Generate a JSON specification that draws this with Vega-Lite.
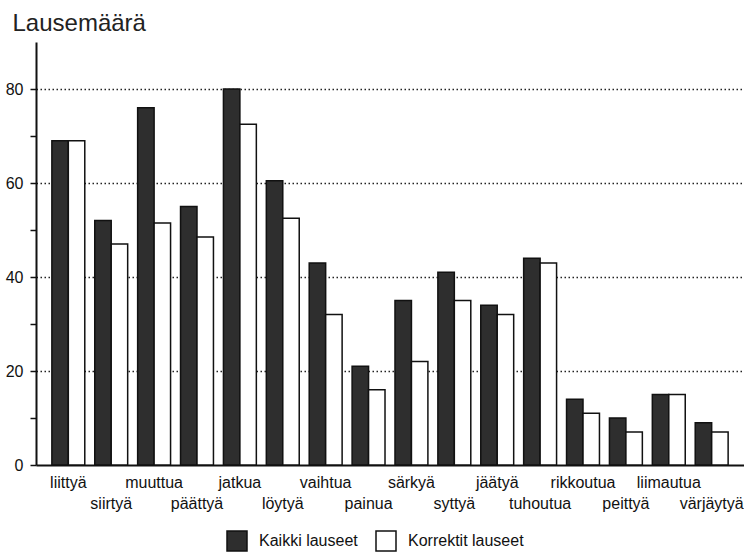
{
  "$schema": "https://vega.github.io/schema/vega-lite/v6.json",
  "width": 708,
  "height": 423,
  "autosize": {"type": "none"},
  "padding": {"left": 36, "top": 42, "right": 0, "bottom": 87},
  "background": "white",
  "config": {
    "view": {"stroke": null},
    "font": "Liberation Sans",
    "text": {"font": "Liberation Sans"}
  },
  "data": {
    "values": [
      {"verbi": "liittyä", "sarja": "Kaikki lauseet", "arvo": 69},
      {"verbi": "liittyä", "sarja": "Korrektit lauseet", "arvo": 69},
      {"verbi": "siirtyä", "sarja": "Kaikki lauseet", "arvo": 52},
      {"verbi": "siirtyä", "sarja": "Korrektit lauseet", "arvo": 47},
      {"verbi": "muuttua", "sarja": "Kaikki lauseet", "arvo": 76},
      {"verbi": "muuttua", "sarja": "Korrektit lauseet", "arvo": 51.5},
      {"verbi": "päättyä", "sarja": "Kaikki lauseet", "arvo": 55},
      {"verbi": "päättyä", "sarja": "Korrektit lauseet", "arvo": 48.5},
      {"verbi": "jatkua", "sarja": "Kaikki lauseet", "arvo": 80},
      {"verbi": "jatkua", "sarja": "Korrektit lauseet", "arvo": 72.5},
      {"verbi": "löytyä", "sarja": "Kaikki lauseet", "arvo": 60.5},
      {"verbi": "löytyä", "sarja": "Korrektit lauseet", "arvo": 52.5},
      {"verbi": "vaihtua", "sarja": "Kaikki lauseet", "arvo": 43},
      {"verbi": "vaihtua", "sarja": "Korrektit lauseet", "arvo": 32},
      {"verbi": "painua", "sarja": "Kaikki lauseet", "arvo": 21},
      {"verbi": "painua", "sarja": "Korrektit lauseet", "arvo": 16},
      {"verbi": "särkyä", "sarja": "Kaikki lauseet", "arvo": 35},
      {"verbi": "särkyä", "sarja": "Korrektit lauseet", "arvo": 22},
      {"verbi": "syttyä", "sarja": "Kaikki lauseet", "arvo": 41},
      {"verbi": "syttyä", "sarja": "Korrektit lauseet", "arvo": 35},
      {"verbi": "jäätyä", "sarja": "Kaikki lauseet", "arvo": 34},
      {"verbi": "jäätyä", "sarja": "Korrektit lauseet", "arvo": 32},
      {"verbi": "tuhoutua", "sarja": "Kaikki lauseet", "arvo": 44},
      {"verbi": "tuhoutua", "sarja": "Korrektit lauseet", "arvo": 43},
      {"verbi": "rikkoutua", "sarja": "Kaikki lauseet", "arvo": 14},
      {"verbi": "rikkoutua", "sarja": "Korrektit lauseet", "arvo": 11},
      {"verbi": "peittyä", "sarja": "Kaikki lauseet", "arvo": 10},
      {"verbi": "peittyä", "sarja": "Korrektit lauseet", "arvo": 7},
      {"verbi": "liimautua", "sarja": "Kaikki lauseet", "arvo": 15},
      {"verbi": "liimautua", "sarja": "Korrektit lauseet", "arvo": 15},
      {"verbi": "värjäytyä", "sarja": "Kaikki lauseet", "arvo": 9},
      {"verbi": "värjäytyä", "sarja": "Korrektit lauseet", "arvo": 7}
    ]
  },
  "mark": {"type": "bar", "stroke": "#111111", "strokeWidth": 1.5},
  "encoding": {
    "x": {
      "field": "verbi",
      "type": "nominal",
      "sort": null,
      "scale": {"paddingInner": 0.2326, "paddingOuter": 0.37},
      "axis": {
        "title": null,
        "ticks": false,
        "tickSize": 0,
        "domainColor": "#111111",
        "domainWidth": 2,
        "labelAngle": 0,
        "labelFont": "Liberation Sans",
        "labelFontSize": 16,
        "labelColor": "#111111",
        "labelPadding": 9,
        "labelLineHeight": 21,
        "labelBaseline": "top",
        "labelOverlap": false,
        "labelBound": false,
        "labelExpr": "indexof(['siirtyä','päättyä','löytyä','painua','syttyä','tuhoutua','peittyä','värjäytyä'], datum.value) >= 0 ? ['', datum.value] : datum.value"
      }
    },
    "xOffset": {
      "field": "sarja",
      "type": "nominal",
      "sort": ["Kaikki lauseet", "Korrektit lauseet"],
      "scale": {"paddingInner": 0, "paddingOuter": 0}
    },
    "y": {
      "field": "arvo",
      "type": "quantitative",
      "scale": {"domain": [0, 90], "nice": false},
      "axis": {
        "title": "Lausemäärä",
        "titleAngle": 0,
        "titleAlign": "left",
        "titleBaseline": "alphabetic",
        "titleX": -24,
        "titleY": -12,
        "titleFont": "Liberation Sans",
        "titleFontSize": 24,
        "titleFontWeight": "normal",
        "titleColor": "#222222",
        "values": [0, 10, 20, 30, 40, 50, 60, 70, 80],
        "labelExpr": "datum.value % 20 === 0 ? datum.label : ''",
        "labelFont": "Liberation Sans",
        "labelFontSize": 16,
        "labelColor": "#111111",
        "labelPadding": 7,
        "tickSize": 6,
        "tickWidth": 1.5,
        "tickColor": "#111111",
        "domainColor": "#111111",
        "domainWidth": 2,
        "grid": true,
        "gridColor": "#222222",
        "gridWidth": 1.4,
        "gridDash": [1.5, 2.5],
        "gridOpacity": {"condition": {"test": "datum.value % 20 !== 0 || datum.value === 0", "value": 0}, "value": 1}
      }
    },
    "fill": {
      "field": "sarja",
      "type": "nominal",
      "scale": {"domain": ["Kaikki lauseet", "Korrektit lauseet"], "range": ["#2e2e2e", "#ffffff"]},
      "legend": {
        "title": null,
        "orient": "none",
        "direction": "horizontal",
        "legendX": 190,
        "legendY": 488,
        "padding": 0,
        "symbolType": "square",
        "symbolSize": 400,
        "symbolStrokeColor": "#111111",
        "symbolStrokeWidth": 1.5,
        "symbolOpacity": 1,
        "labelFont": "Liberation Sans",
        "labelFontSize": 16,
        "labelColor": "#111111",
        "labelOffset": 11,
        "columnPadding": 15
      }
    }
  }
}
